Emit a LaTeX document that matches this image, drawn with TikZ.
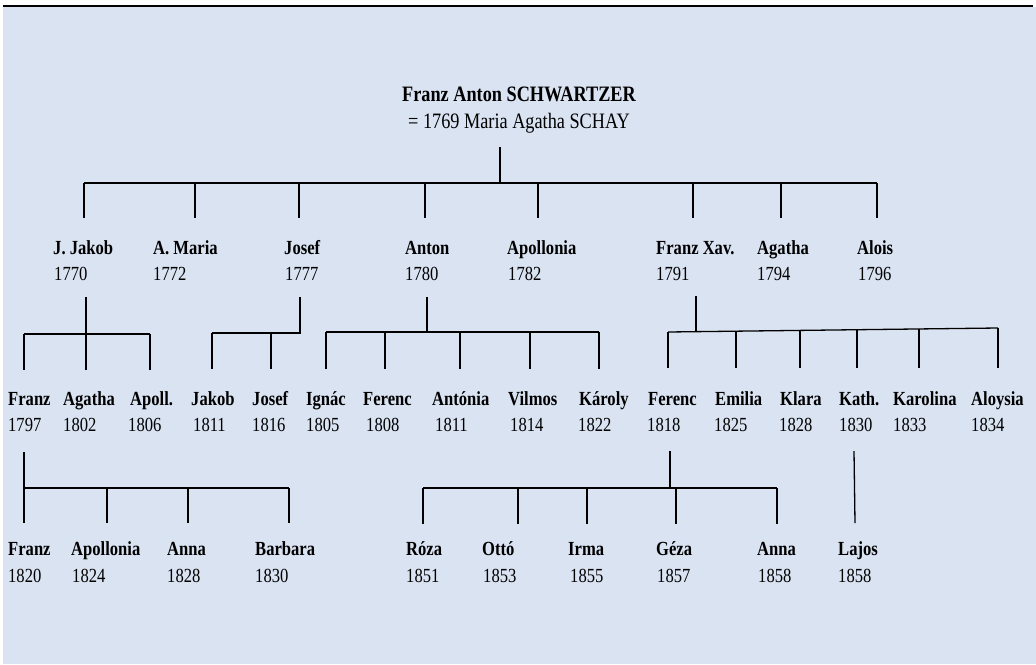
\documentclass[tikz,border=0pt]{standalone}
\usepackage{fontspec}
\setmainfont{Liberation Serif}[FakeStretch=0.83]
\definecolor{panel}{RGB}{218,227,242}
\begin{document}
\begin{tikzpicture}[x=1pt,y=-1pt,
  nm/.style={anchor=base west,inner sep=0pt,font=\fontsize{20}{24}\selectfont\bfseries},
  yr/.style={anchor=base west,inner sep=0pt,font=\fontsize{20}{24}\selectfont},
  hd/.style={anchor=base,inner sep=0pt,font=\fontsize{22}{26}\selectfont},
  ln/.style={line width=1.3pt,black}]
\useasboundingbox (0,0) rectangle (1036,664);
% panel and rule at the top
\fill[panel] (3,7) rectangle (1036,664);
\draw[line width=2.3pt] (3,6) -- (1033,6);

% founder
\node[hd,font=\fontsize{22}{26}\selectfont\bfseries] (root) at (519,101) {Franz Anton SCHWARTZER};
\node[hd] (rootm) at (519,128) {= 1769 Maria Agatha SCHAY};

% children
\node[nm] (jj) at (53,254) {J. Jakob};    \node[yr] (jjy) at (54,280) {1770};
\node[nm] (am) at (153,254) {A. Maria};   \node[yr] (amy) at (153,280) {1772};
\node[nm] (jo) at (284,254) {Josef};      \node[yr] (joy) at (285,280) {1777};
\node[nm] (an) at (405,254) {Anton};      \node[yr] (any) at (405,280) {1780};
\node[nm] (ap) at (507,254) {Apollonia};  \node[yr] (apy) at (508,280) {1782};
\node[nm] (fx) at (656,254) {Franz Xav.}; \node[yr] (fxy) at (656,280) {1791};
\node[nm] (ag) at (757,254) {Agatha};     \node[yr] (agy) at (757,280) {1794};
\node[nm] (al) at (857,254) {Alois};      \node[yr] (aly) at (858,280) {1796};

% grandchildren
\node[nm] (g1) at (8,405) {Franz};      \node[yr] (g1y) at (8,431) {1797};
\node[nm] (g2) at (63,405) {Agatha};    \node[yr] (g2y) at (63,431) {1802};
\node[nm] (g3) at (130,405) {Apoll.};   \node[yr] (g3y) at (128,431) {1806};
\node[nm] (g4) at (191,405) {Jakob};    \node[yr] (g4y) at (193,431) {1811};
\node[nm] (g5) at (252,405) {Josef};    \node[yr] (g5y) at (252,431) {1816};
\node[nm] (g6) at (306,405) {Ignác};    \node[yr] (g6y) at (306,431) {1805};
\node[nm] (g7) at (363,405) {Ferenc};   \node[yr] (g7y) at (366,431) {1808};
\node[nm] (g8) at (432,405) {Antónia};  \node[yr] (g8y) at (435,431) {1811};
\node[nm] (g9) at (508,405) {Vilmos};   \node[yr] (g9y) at (510,431) {1814};
\node[nm] (g10) at (579,405) {Károly};  \node[yr] (g10y) at (578,431) {1822};
\node[nm] (g11) at (648,405) {Ferenc};  \node[yr] (g11y) at (647,431) {1818};
\node[nm] (g12) at (715,405) {Emilia};  \node[yr] (g12y) at (714,431) {1825};
\node[nm] (g13) at (780,405) {Klara};   \node[yr] (g13y) at (779,431) {1828};
\node[nm] (g14) at (839,405) {Kath.};   \node[yr] (g14y) at (839,431) {1830};
\node[nm] (g15) at (893,405) {Karolina};\node[yr] (g15y) at (893,431) {1833};
\node[nm] (g16) at (971,405) {Aloysia}; \node[yr] (g16y) at (971,431) {1834};

% great-grandchildren
\node[nm] (h1) at (8,555) {Franz};      \node[yr] (h1y) at (8,582) {1820};
\node[nm] (h2) at (71,555) {Apollonia}; \node[yr] (h2y) at (72,582) {1824};
\node[nm] (h3) at (167,555) {Anna};     \node[yr] (h3y) at (167,582) {1828};
\node[nm] (h4) at (255,555) {Barbara};  \node[yr] (h4y) at (255,582) {1830};
\node[nm] (h5) at (406,555) {Róza};     \node[yr] (h5y) at (406,582) {1851};
\node[nm] (h6) at (482,555) {Ottó};     \node[yr] (h6y) at (483,582) {1853};
\node[nm] (h7) at (568,555) {Irma};     \node[yr] (h7y) at (570,582) {1855};
\node[nm] (h8) at (656,555) {Géza};     \node[yr] (h8y) at (657,582) {1857};
\node[nm] (h9) at (757,555) {Anna};     \node[yr] (h9y) at (758,582) {1858};
\node[nm] (h10) at (838,555) {Lajos};   \node[yr] (h10y) at (838,582) {1858};

% founder -> children
\coordinate (r-top) at (500,147); \coordinate (r-bar) at (500,183);
\draw[ln] (r-top) -- (r-bar);
\draw[ln] (84,183) coordinate (r-l) -- (877,183) coordinate (r-r);
\foreach \x in {84,195,299,425,538,693,781,877} \draw[ln] (\x,183) -- ++(0,35);

% J. Jakob's family
\coordinate (jj-top) at (86,297); \coordinate (jj-end) at (86,370);
\draw[ln] (jj-top) -- (jj-end);
\draw[ln] (24,334) coordinate (jj-l) -- (150,334) coordinate (jj-r);
\foreach \x in {24,150} \draw[ln] (\x,334) -- ++(0,36);

% Josef's family
\coordinate (jo-top) at (300,297); \coordinate (jo-bar) at (300,333);
\draw[ln] (jo-top) -- (jo-bar) -- (212,333) coordinate (jo-l);
\foreach \x in {212,271} \draw[ln] (\x,333) -- ++(0,36);

% Anton's family
\coordinate (an-top) at (427,297); \coordinate (an-bar) at (427,332);
\draw[ln] (an-top) -- (an-bar);
\draw[ln] (326,332) coordinate (an-l) -- (599,332) coordinate (an-r);
\foreach \x in {326,385,460,530,599} \draw[ln] (\x,332) -- ++(0,37);

% Franz Xaver's family
\coordinate (fx-top) at (696,296); \coordinate (fx-bar) at (696,331.2);
\draw[ln] (fx-top) -- (fx-bar);
\draw[ln] (668,332) coordinate (fx-l) -- (998,328) coordinate (fx-r);
\foreach \x/\y in {668/332,736/331.2,800/330.4,857/329.7,919/329,998/328} \draw[ln] (\x,\y) -- (\x,368);

% Franz (1797)'s family
\coordinate (g1-top) at (24,452); \coordinate (g1-bar) at (24,488);
\draw[ln] (g1-top) -- (g1-bar) -- (24,523);
\draw[ln] (g1-bar) -- (289,488) coordinate (g1-r);
\foreach \x in {107,188,289} \draw[ln] (\x,488) -- ++(0,35);

% Ferenc (1818)'s family
\coordinate (g11-top) at (670,451); \coordinate (g11-bar) at (670,488);
\draw[ln] (g11-top) -- (g11-bar);
\draw[ln] (423,488) coordinate (g11-l) -- (777,488) coordinate (g11-r);
\foreach \x in {423,518,587,676,777} \draw[ln] (\x,488) -- ++(0,36);

% Kath.'s son
\coordinate (g14-top) at (854,451); \coordinate (g14-end) at (855,523);
\draw[ln] (g14-top) -- (g14-end);
\end{tikzpicture}
\end{document}
